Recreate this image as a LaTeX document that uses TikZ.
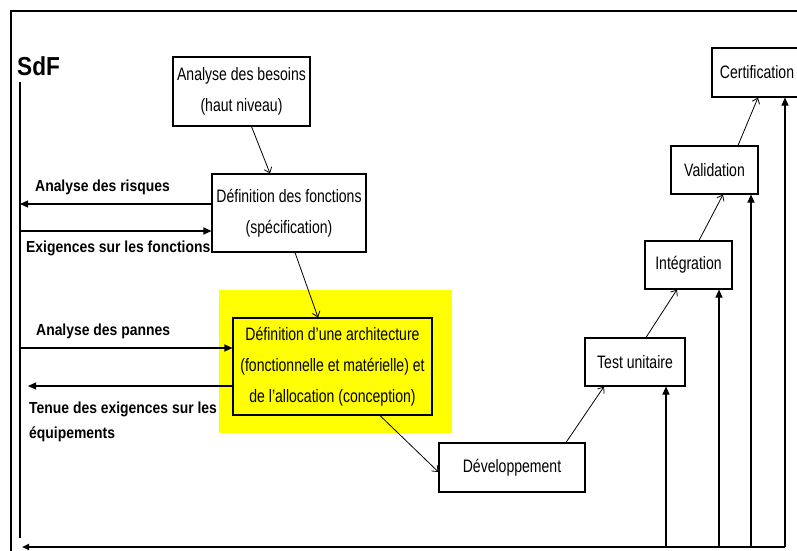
\documentclass[tikz,border=0pt]{standalone}
\usepackage{fontspec}
\usetikzlibrary{arrows.meta}
\newfontfamily\boxfont{Liberation Sans}[FakeStretch=0.78]
\newfontfamily\lblfont{Liberation Sans}[FakeStretch=0.87]
\definecolor{hlyellow}{HTML}{FFFF00}

\begin{document}
\begin{tikzpicture}[x=1pt,y=-1pt,
  stage/.style={draw, line width=1.1pt, inner sep=0pt, align=center,
    font=\boxfont\fontsize{18}{31}\selectfont},
  flow/.style={line width=0.8pt, -{Straight Barb[length=5pt,width=8pt]}},
  feed/.style={line width=1.1pt, -{Triangle[length=8pt,width=7pt]}},
  lbl/.style={font=\lblfont\bfseries\fontsize{16}{25}\selectfont,
    inner sep=0pt, align=left, anchor=base west},
]
\useasboundingbox (0,0) rectangle (797,550);
\clip (0,0) rectangle (797,550);
\fill[white] (0,0) rectangle (797,550);

% outer frame
\draw[line width=2.6pt] (11,570) -- (11,11) -- (820,11);

% highlighted design stage
\fill[hlyellow] (219,290) rectangle (452,433);

% V-cycle stages
\node[stage, minimum width=137pt, minimum height=69pt] (besoins) at (241.5,91.5)
  {Analyse des besoins\\(haut niveau)};
\node[stage, minimum width=154pt, minimum height=78pt] (fonctions) at (289,213)
  {Définition des fonctions\\(spécification)};
\node[stage, minimum width=199pt, minimum height=97pt] (archi) at (332.5,366.5)
  {Définition d’une architecture\\(fonctionnelle et matérielle) et\\de l’allocation (conception)};
\node[stage, minimum width=146pt, minimum height=49pt] (dev) at (512,467.5)
  {Développement};
\node[stage, minimum width=100pt, minimum height=48pt] (test) at (635,362)
  {Test unitaire};
\node[stage, minimum width=87pt, minimum height=48pt] (integ) at (688.5,265)
  {Intégration};
\node[stage, minimum width=87pt, minimum height=48pt] (valid) at (714.5,170)
  {Validation};
\node[stage, minimum width=90pt, minimum height=49pt] (cert) at (757,72.5)
  {Certification};

% flow between stages
\draw[flow] ([xshift=10pt]besoins.south) -- ([xshift=-19pt]fonctions.north);
\draw[flow] ([xshift=6pt]fonctions.south) -- ([xshift=-14.5pt]archi.north);
\draw[flow] ([xshift=47.5pt]archi.south) -- ([yshift=-4.5pt]dev.west);
\draw[flow] ([xshift=54pt]dev.north) -- ([xshift=-31pt]test.south);
\draw[flow] ([xshift=11pt]test.north) -- ([xshift=-11.5pt]integ.south);
\draw[flow] ([xshift=10.5pt]integ.north) -- ([xshift=8.5pt]valid.south);
\draw[flow] ([xshift=23.5pt]valid.north) -- ([xshift=1pt]cert.south);

% dependability (SdF) axis
\node[font=\lblfont\bfseries\fontsize{26}{26}\selectfont, inner sep=0pt,
  anchor=base west] (sdf) at (17,75) {SdF};
\coordinate (sdftop) at (20,82);
\coordinate (sdfbot) at (20,538);
\draw[line width=1.1pt] (sdftop) -- (sdfbot);

\coordinate (risk) at ([yshift=9pt]fonctions.west);
\coordinate (exig) at ([yshift=-18pt]fonctions.west);
\coordinate (pann) at ([yshift=18.5pt]archi.west);
\coordinate (tenu) at ([yshift=-19.5pt]archi.west);
\coordinate (tenuend) at (28,386);

\draw[feed] (risk) -- (risk -| sdftop);
\draw[feed] (exig -| sdftop) -- (exig);
\draw[feed] (pann -| sdftop) -- (pann);
\draw[feed] (tenu) -- (tenuend);

\node[lbl] (lrisk) at (35,191) {Analyse des risques};
\node[lbl] (lexig) at (26,252) {Exigences sur les fonctions};
\node[lbl] (lpann) at (36,335) {Analyse des pannes};
\node[lbl] (ltenu) at (29,438) {Tenue des exigences sur les\\équipements};

% feedback from verification stages
\coordinate (fbright) at (785,547);
\coordinate (fbleft) at (22,547);
\draw[line width=2.2pt, -{Triangle[length=7pt,width=6pt]}] (fbright) -- (fbleft);
\coordinate (v1) at (666,547);
\coordinate (v2) at (719,547);
\coordinate (v3) at (751,547);
\draw[feed] (v1) -- (v1 |- test.south);
\draw[feed] (v2) -- (v2 |- integ.south);
\draw[feed] (v3) -- (v3 |- valid.south);
\draw[feed] (fbright) -- (fbright |- cert.south);
\end{tikzpicture}
\end{document}
